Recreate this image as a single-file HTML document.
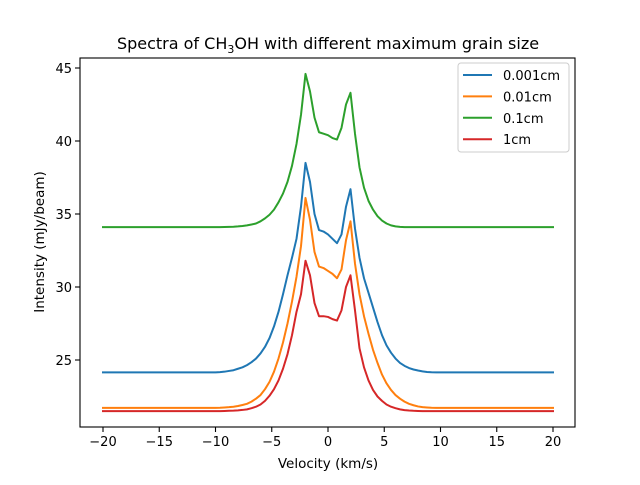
<!DOCTYPE html>
<html><head><meta charset="utf-8"><style>
body{margin:0;background:#fff;}
svg text{font-family:"DejaVu Sans","Liberation Sans",sans-serif;fill:#000;}
</style></head><body>
<svg id="chart" width="640" height="480" viewBox="0 0 640 480">
<rect width="640" height="480" fill="#fff"/>
<text x="328" y="49" font-size="16" text-anchor="middle">Spectra of CH<tspan font-size="11" dy="4">3</tspan><tspan dy="-4">OH with different maximum grain size</tspan></text>
<g id="series"></g>
<rect x="80" y="58" width="495" height="369" fill="none" stroke="#000" stroke-width="1.1"/>
<g id="xticks"></g>
<g id="yticks"></g>
<text x="328" y="468" font-size="13.5" text-anchor="middle">Velocity (km/s)</text>
<text transform="translate(44,242) rotate(-90)" font-size="13.5" text-anchor="middle">Intensity (mJy/beam)</text>
<g id="legend">
<rect x="458" y="63" width="111" height="89" rx="3" fill="#fff" fill-opacity="0.8" stroke="#ccc"/>
</g>
</svg>
<script>
const velocity=[-20,-10,-9.6,-9.2,-8.8,-8.4,-8.0,-7.6,-7.2,-6.8,-6.4,-6.0,-5.6,-5.2,-4.8,-4.4,-4.0,-3.6,-3.2,-2.8,-2.4,-2.0,-1.6,-1.2,-0.8,-0.4,0,0.4,0.8,1.2,1.6,2.0,2.4,2.8,3.2,3.6,4.0,4.4,4.8,5.2,5.6,6.0,6.4,6.8,7.2,7.6,8.0,8.4,8.8,9.2,9.6,10,20];
const series001=[24.15,24.15,24.17,24.2,24.25,24.3,24.4,24.5,24.65,24.85,25.1,25.45,25.9,26.5,27.3,28.3,29.5,30.8,32.0,33.3,35.5,38.5,37.2,35.0,33.9,33.8,33.6,33.3,33.0,33.6,35.5,36.7,34.0,32.0,30.6,29.6,28.6,27.6,26.7,26.0,25.5,25.1,24.8,24.6,24.45,24.35,24.28,24.22,24.18,24.16,24.15,24.15,24.15];
const series01=[21.72,21.72,21.73,21.75,21.77,21.8,21.85,21.92,22.0,22.15,22.35,22.6,23.0,23.5,24.2,25.1,26.2,27.5,29.0,30.7,32.8,36.1,34.6,32.4,31.4,31.3,31.1,30.9,30.6,31.2,33.2,34.5,31.6,29.5,28.0,26.8,25.7,24.8,24.0,23.4,22.95,22.6,22.35,22.15,22.0,21.9,21.82,21.77,21.75,21.73,21.72,21.72,21.72];
const series1=[34.1,34.1,34.1,34.11,34.12,34.13,34.15,34.18,34.22,34.28,34.35,34.5,34.7,34.95,35.3,35.8,36.4,37.2,38.3,39.8,41.8,44.6,43.4,41.6,40.6,40.5,40.4,40.2,40.1,40.9,42.5,43.3,40.5,38.2,36.8,35.9,35.3,34.85,34.55,34.35,34.22,34.15,34.12,34.1,34.1,34.1,34.1,34.1,34.1,34.1,34.1,34.1,34.1];
const series1cm=[21.5,21.5,21.5,21.51,21.52,21.53,21.55,21.58,21.62,21.7,21.8,21.95,22.2,22.55,23.0,23.6,24.4,25.4,26.7,28.3,29.5,31.8,30.8,28.9,28.0,28.0,27.95,27.8,27.7,28.4,30.0,30.8,28.4,25.8,24.5,23.6,22.95,22.5,22.2,21.95,21.8,21.7,21.62,21.57,21.54,21.52,21.51,21.5,21.5,21.5,21.5,21.5,21.5];
const seriesLabels=["0.001cm","0.01cm","0.1cm","1cm"];
const seriesColors=["#1f77b4","#ff7f0e","#2ca02c","#d62728"];
const xTicks=[-20,-15,-10,-5,0,5,10,15,20];
const yTicks=[25,30,35,40,45];

const NS="http://www.w3.org/2000/svg";
function xs(v){return 328+v*11.25;}
function ys(v){return 360-(v-25)*14.6;}
function mk(tag,attrs,parent){const e=document.createElementNS(NS,tag);for(const k in attrs)e.setAttribute(k,attrs[k]);parent.appendChild(e);return e;}

const allSeries=[series001,series01,series1,series1cm];
const sg=document.getElementById('series');
allSeries.forEach((s,i)=>{
  const d=s.map((y,j)=>(j?'L':'M')+xs(velocity[j]).toFixed(2)+' '+ys(y).toFixed(2)).join(' ');
  const p=mk('path',{d:d,fill:'none',stroke:seriesColors[i],'stroke-width':2,'stroke-linejoin':'round','stroke-linecap':'square'},sg);
  
  
});
const xg=document.getElementById('xticks');
xTicks.forEach(t=>{
  const l=mk('line',{x1:xs(t),x2:xs(t),y1:427,y2:432,stroke:'#000','stroke-width':1.1},xg);
  
  
  const tx=mk('text',{x:xs(t),y:446,'font-size':13,'text-anchor':'middle'},xg);
  tx.textContent=t<0?'\u2212'+(-t):String(t);
  
  
});
const yg=document.getElementById('yticks');
yTicks.forEach(t=>{
  const l=mk('line',{x1:75,x2:80,y1:ys(t),y2:ys(t),stroke:'#000','stroke-width':1.1},yg);
  
  
  const tx=mk('text',{x:72,y:ys(t)+5,'font-size':13,'text-anchor':'end'},yg);
  tx.textContent=String(t);
  
  
});
const lg=document.getElementById('legend');
seriesLabels.forEach((lab,i)=>{
  const y=75+i*21.4;
  const l=mk('line',{x1:463,x2:492,y1:y,y2:y,stroke:seriesColors[i],'stroke-width':2},lg);
  
  
  const tx=mk('text',{x:503,y:y+5,'font-size':13},lg);
  tx.textContent=lab;
  
  
});
</script>
</body></html>
